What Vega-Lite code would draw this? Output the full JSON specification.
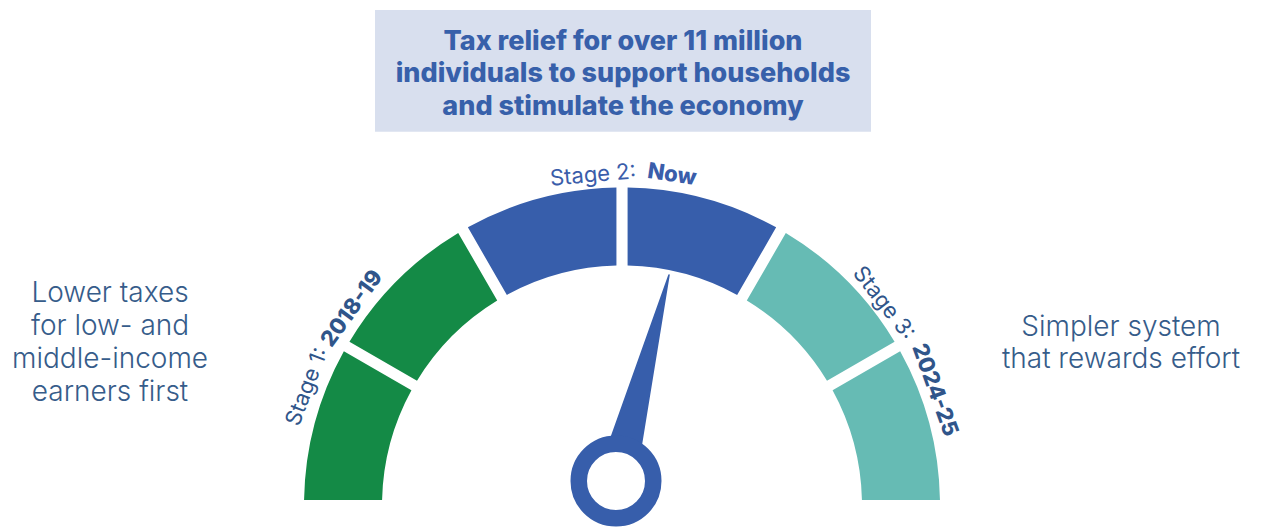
{
  "$schema": "https://vega.github.io/schema/vega-lite/v6.json",
  "width": 1261,
  "height": 527,
  "autosize": "none",
  "padding": 0,
  "background": "white",
  "config": {"view": {"stroke": null}},
  "layer": [
    {
      "data": {"values": [{}]},
      "mark": {"type": "rect", "color": "#D8DFEE"},
      "encoding": {
        "x": {"datum": -77.67, "type": "quantitative", "scale": {"domain": [-195.6, 200.94], "nice": false, "zero": false}, "axis": null},
        "x2": {"datum": 78.3},
        "y": {"datum": 155.82, "type": "quantitative", "scale": {"domain": [-6.76, 158.96], "nice": false, "zero": false}, "axis": null},
        "y2": {"datum": 117.55}
      }
    },
    {
      "data": {"values": [{}]},
      "mark": {"type": "text", "text": ["Tax relief for over 11 million", "individuals to support households", "and stimulate the economy"], "font": "Inter", "fontWeight": 800, "fontSize": 27, "lineHeight": 32.5, "align": "center", "baseline": "alphabetic", "color": "#3760AA"},
      "encoding": {
        "x": {"datum": 0.31, "type": "quantitative", "scale": {"domain": [-195.6, 200.94], "nice": false, "zero": false}, "axis": null},
        "y": {"datum": 143.24, "type": "quantitative", "scale": {"domain": [-6.76, 158.96], "nice": false, "zero": false}, "axis": null}
      }
    },
    {
      "data": {"values": [
        {"segment": 1, "stage": "Stage 1", "start": 0, "end": 1},
        {"segment": 2, "stage": "Stage 1", "start": 1, "end": 2},
        {"segment": 3, "stage": "Stage 2", "start": 2, "end": 3},
        {"segment": 4, "stage": "Stage 2", "start": 3, "end": 4},
        {"segment": 5, "stage": "Stage 3", "start": 4, "end": 5},
        {"segment": 6, "stage": "Stage 3", "start": 5, "end": 6}
      ]},
      "mark": {"type": "arc", "radius": 318, "radius2": 240, "padAngle": 0.028},
      "encoding": {
        "x": {"datum": 0, "type": "quantitative", "scale": {"domain": [-195.6, 200.94], "nice": false, "zero": false}, "axis": null},
        "y": {"datum": 0, "type": "quantitative", "scale": {"domain": [-6.76, 158.96], "nice": false, "zero": false}, "axis": null},
        "theta": {"field": "start", "type": "quantitative", "scale": {"domain": [0, 6], "range": [-1.5708, 1.5708], "zero": false, "nice": false}, "stack": null},
        "theta2": {"field": "end"},
        "color": {"field": "stage", "type": "nominal", "scale": {"domain": ["Stage 1", "Stage 2", "Stage 3"], "range": ["#148A46", "#375EAB", "#66BBB4"]}, "legend": null}
      }
    },
    {
      "data": {"values": [
        {"pos": 0, "x": -1.89, "y": 7.7},
        {"pos": 1, "x": 14.78, "y": 72.48}
      ]},
      "mark": {"type": "trail", "color": "#375EAB"},
      "encoding": {
        "x": {"field": "x", "type": "quantitative", "scale": {"domain": [-195.6, 200.94], "nice": false, "zero": false}, "axis": null},
        "y": {"field": "y", "type": "quantitative", "scale": {"domain": [-6.76, 158.96], "nice": false, "zero": false}, "axis": null},
        "order": {"field": "pos", "type": "quantitative"},
        "size": {"field": "pos", "type": "quantitative", "scale": {"domain": [0, 1], "range": [40, 1.5], "zero": false}, "legend": null}
      }
    },
    {
      "data": {"values": [{}]},
      "mark": {"type": "point", "shape": "circle", "size": 5550, "filled": false, "fill": "white", "stroke": "#375EAB", "strokeWidth": 16.5, "opacity": 1},
      "encoding": {
        "x": {"datum": -1.89, "type": "quantitative", "scale": {"domain": [-195.6, 200.94], "nice": false, "zero": false}, "axis": null},
        "y": {"datum": 7.7, "type": "quantitative", "scale": {"domain": [-6.76, 158.96], "nice": false, "zero": false}, "axis": null}
      }
    },
    {
      "data": {"values": [{}]},
      "mark": {"type": "text", "text": ["Lower taxes", "for low- and", "middle-income", "earners first"], "font": "Inter", "fontWeight": 300, "fontSize": 28, "lineHeight": 33, "align": "center", "baseline": "alphabetic", "color": "#365C8A"},
      "encoding": {
        "x": {"datum": -161.0, "type": "quantitative", "scale": {"domain": [-195.6, 200.94], "nice": false, "zero": false}, "axis": null},
        "y": {"datum": 63.99, "type": "quantitative", "scale": {"domain": [-6.76, 158.96], "nice": false, "zero": false}, "axis": null}
      }
    },
    {
      "data": {"values": [{}]},
      "mark": {"type": "text", "text": ["Simpler system", "that rewards effort"], "font": "Inter", "fontWeight": 300, "fontSize": 28, "lineHeight": 32, "align": "center", "baseline": "alphabetic", "color": "#365C8A"},
      "encoding": {
        "x": {"datum": 156.92, "type": "quantitative", "scale": {"domain": [-195.6, 200.94], "nice": false, "zero": false}, "axis": null},
        "y": {"datum": 53.3, "type": "quantitative", "scale": {"domain": [-6.76, 158.96], "nice": false, "zero": false}, "axis": null}
      }
    },
    {
      "data": {"values": [{}]},
      "mark": {"type": "text", "text": "Stage 1:", "font": "Inter", "fontSize": 22, "angle": -69, "align": "center", "baseline": "middle", "color": "#30558A"},
      "encoding": {
        "x": {"datum": -99.15, "type": "quantitative", "scale": {"domain": [-195.6, 200.94], "nice": false, "zero": false}, "axis": null},
        "y": {"datum": 37.36, "type": "quantitative", "scale": {"domain": [-6.76, 158.96], "nice": false, "zero": false}, "axis": null}
      }
    },
    {
      "data": {"values": [{}]},
      "mark": {"type": "text", "text": "2018-19", "font": "Inter", "fontWeight": 800, "fontSize": 22, "angle": -54, "align": "center", "baseline": "middle", "color": "#30558A"},
      "encoding": {
        "x": {"datum": -85.0, "type": "quantitative", "scale": {"domain": [-195.6, 200.94], "nice": false, "zero": false}, "axis": null},
        "y": {"datum": 62.0, "type": "quantitative", "scale": {"domain": [-6.76, 158.96], "nice": false, "zero": false}, "axis": null}
      }
    },
    {
      "data": {"values": [{}]},
      "mark": {"type": "text", "text": "Stage 2:", "font": "Inter", "fontSize": 22, "angle": -5, "align": "center", "baseline": "middle", "color": "#3A5DAA"},
      "encoding": {
        "x": {"datum": -9.12, "type": "quantitative", "scale": {"domain": [-195.6, 200.94], "nice": false, "zero": false}, "axis": null},
        "y": {"datum": 103.93, "type": "quantitative", "scale": {"domain": [-6.76, 158.96], "nice": false, "zero": false}, "axis": null}
      }
    },
    {
      "data": {"values": [{}]},
      "mark": {"type": "text", "text": "Now", "font": "Inter", "fontWeight": 800, "fontSize": 22, "angle": 8.6, "align": "center", "baseline": "middle", "color": "#3A5DAA"},
      "encoding": {
        "x": {"datum": 15.72, "type": "quantitative", "scale": {"domain": [-195.6, 200.94], "nice": false, "zero": false}, "axis": null},
        "y": {"datum": 104.09, "type": "quantitative", "scale": {"domain": [-6.76, 158.96], "nice": false, "zero": false}, "axis": null}
      }
    },
    {
      "data": {"values": [{}]},
      "mark": {"type": "text", "text": "Stage 3:", "font": "Inter", "fontSize": 22, "angle": 52, "align": "center", "baseline": "middle", "color": "#30558A"},
      "encoding": {
        "x": {"datum": 82.39, "type": "quantitative", "scale": {"domain": [-195.6, 200.94], "nice": false, "zero": false}, "axis": null},
        "y": {"datum": 63.68, "type": "quantitative", "scale": {"domain": [-6.76, 158.96], "nice": false, "zero": false}, "axis": null}
      }
    },
    {
      "data": {"values": [{}]},
      "mark": {"type": "text", "text": "2024-25", "font": "Inter", "fontWeight": 800, "fontSize": 22, "angle": 70, "align": "center", "baseline": "middle", "color": "#30558A"},
      "encoding": {
        "x": {"datum": 98.43, "type": "quantitative", "scale": {"domain": [-195.6, 200.94], "nice": false, "zero": false}, "axis": null},
        "y": {"datum": 36.32, "type": "quantitative", "scale": {"domain": [-6.76, 158.96], "nice": false, "zero": false}, "axis": null}
      }
    }
  ]
}
